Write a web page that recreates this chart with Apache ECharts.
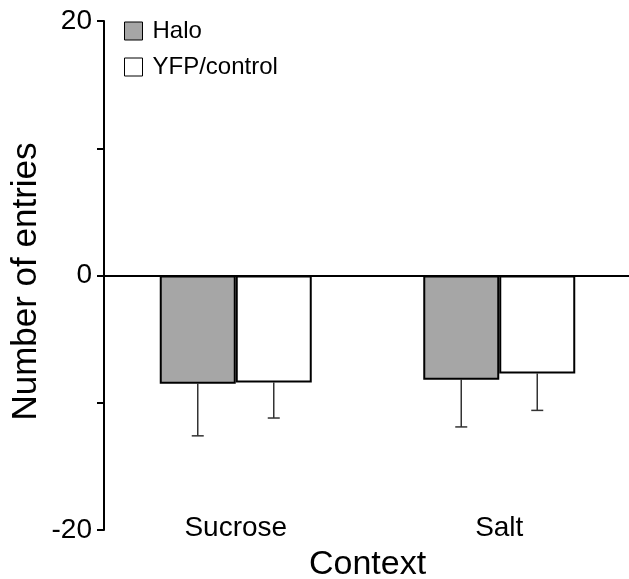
<!DOCTYPE html>
<html>
<head>
<meta charset="utf-8">
<script src="https://cdn.jsdelivr.net/npm/echarts@6/dist/echarts.min.js"></script>
<style>
  html, body { margin: 0; padding: 0; background: #fff; }
  #chart { width: 629px; height: 579px; }
</style>
</head>
<body>
<div id="chart"></div>
<script>
const categories = ['Sucrose', 'Salt']
const haloMean = [-8.5, -8.2]
const haloErr = [4.1, 3.7]
const yfpMean = [-8.4, -7.7]
const yfpErr = [2.8, 2.9]
const yTicks = [-20, 0, 20]

const FONT = 'Liberation Sans'
const BAR_W = 76

// lower error bar drawn from bar end downwards
function errorSeries(mean, err, shift) {
  return {
    type: 'custom',
    silent: true,
    z: 1,
    data: mean.map((m, i) => [i, m, err[i]]),
    encode: { x: 0, y: 1 },
    renderItem(params, api) {
      const i = api.value(0)
      const top = api.coord([i, api.value(1)])
      const bot = api.coord([i, api.value(1) - api.value(2)])
      const x = top[0] + shift
      const style = { stroke: '#333', lineWidth: 1.5 }
      return {
        type: 'group',
        children: [
          { type: 'line', shape: { x1: x, y1: top[1], x2: x, y2: bot[1] }, style },
          { type: 'line', shape: { x1: x - 6, y1: bot[1], x2: x + 6, y2: bot[1] }, style }
        ]
      }
    }
  }
}

const chart = echarts.init(document.getElementById('chart'))
chart.setOption({
  animation: false,
  backgroundColor: '#fff',
  textStyle: { fontFamily: FONT },
  grid: { left: 104, top: 21, bottom: 49, width: 527, outerBoundsMode: 'none', containLabel: false },
  legend: {
    data: ['Halo', 'YFP/control'],
    orient: 'vertical',
    left: 124,
    top: 19,
    padding: 0,
    itemWidth: 18,
    itemHeight: 18,
    itemGap: 12,
    icon: 'rect',
    itemStyle: { borderColor: '#000', borderWidth: 1 },
    textStyle: { fontSize: 24, color: '#000', fontFamily: FONT, padding: [0, 0, 0, 5] }
  },
  xAxis: {
    type: 'category',
    data: categories,
    name: 'Context',
    nameLocation: 'middle',
    nameGap: 18,
    nameMoveOverlap: false,
    nameTextStyle: { fontSize: 34, color: '#000', fontFamily: FONT },
    axisLine: { show: false },
    axisTick: { show: false },
    axisLabel: { fontSize: 28, color: '#000', margin: -2, verticalAlign: 'middle' }
  },
  yAxis: {
    type: 'value',
    min: -20,
    max: 20,
    interval: 10,
    name: 'Number of entries',
    nameLocation: 'middle',
    nameRotate: 90,
    nameGap: 60,
    nameMoveOverlap: false,
    nameTextStyle: { fontSize: 35, color: '#000', fontFamily: FONT, padding: [0, 12, 0, 0] },
    axisLine: { show: true, lineStyle: { color: '#000', width: 2 } },
    axisTick: { show: true, length: 7, lineStyle: { color: '#000', width: 2 } },
    axisLabel: {
      fontSize: 28, color: '#000', margin: 12,
      formatter: v => yTicks.includes(v) ? String(v) : ''
    },
    splitLine: { show: false }
  },
  series: [
    {
      name: 'Halo',
      type: 'bar',
      data: haloMean,
      barWidth: BAR_W,
      barGap: 0,
      itemStyle: { color: '#a6a6a6', borderColor: '#000', borderWidth: 2 },
      markLine: {
        silent: true,
        symbol: 'none',
        label: { show: false },
        lineStyle: { color: '#000', width: 2, type: 'solid' },
        data: [{ yAxis: 0 }]
      }
    },
    {
      name: 'YFP/control',
      type: 'bar',
      data: yfpMean,
      barWidth: BAR_W,
      itemStyle: { color: '#fff', borderColor: '#000', borderWidth: 2 }
    },
    errorSeries(haloMean, haloErr, -BAR_W / 2),
    errorSeries(yfpMean, yfpErr, BAR_W / 2)
  ]
})
</script>
</body>
</html>
